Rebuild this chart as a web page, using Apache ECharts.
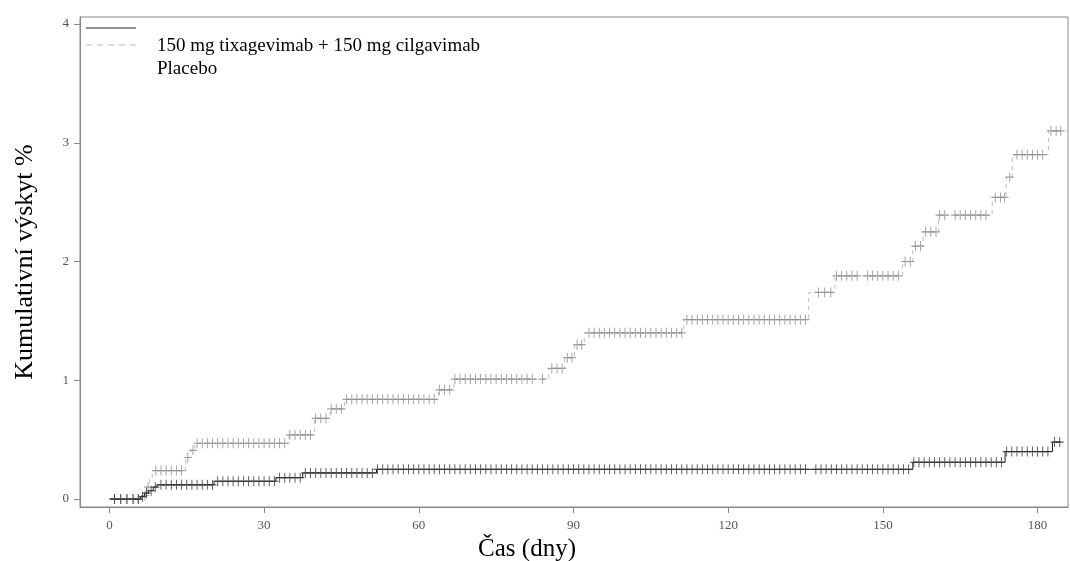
<!DOCTYPE html>
<html>
<head>
<meta charset="utf-8">
<title>Kumulativní výskyt</title>
<script src="https://cdn.jsdelivr.net/npm/echarts@6/dist/echarts.min.js"></script>
<style>
  html, body { margin: 0; padding: 0; background: #fff; }
  #chart { width: 1070px; height: 561px; }
</style>
</head>
<body>
<div id="chart"></div>
<script>
// days where the curve jumps and the cumulative % after the jump (last entry = end of follow-up)
const azdDays = [0, 6.0, 6.8, 7.6, 8.5, 9.2, 20.3, 32.3, 37.5, 51.8, 155.8, 173.7, 182.9, 184.5];
const azdValues = [0, 0.02, 0.05, 0.07, 0.10, 0.12, 0.15, 0.18, 0.22, 0.25, 0.31, 0.40, 0.48, 0.48];
// censored subjects (+ marks)
const azdCensor = [
  1, 2.2, 3.4, 4.6, 5.6, 6.4, 7.2, 8.1, 8.9,
  10, 11, 12, 13, 14, 15, 16, 17, 18, 19, 20,
  21, 22, 23, 24, 25, 26, 27, 28, 29, 30, 31, 32,
  33, 34, 35, 36, 37,
  38, 39, 40, 41, 42, 43, 44, 45, 46, 47, 48, 49, 50, 51,
  52, 53, 54, 55, 56, 57, 58, 59, 60, 61, 62, 63, 64, 65, 66, 67, 68, 69, 70,
  71, 72, 73, 74, 75, 76, 77, 78, 79, 80, 81, 82, 83, 84, 85, 86, 87, 88, 89, 90,
  91, 92, 93, 94, 95, 96, 97, 98, 99, 100, 101, 102, 103, 104, 105, 106, 107, 108, 109, 110,
  111, 112, 113, 114, 115, 116, 117, 118, 119, 120, 121, 122, 123, 124, 125, 126, 127, 128, 129, 130,
  131, 132, 133, 134, 135, 137, 138, 139, 140, 141, 142, 143, 144, 145, 146, 147, 148, 149, 150,
  151, 152, 153, 154, 155,
  156, 157, 158, 159, 160, 161, 162, 163, 164, 165, 166, 167, 168, 169, 170, 171, 172, 173,
  174, 175, 176, 177, 178, 179, 180, 181, 182,
  183.3, 184.3
];

const placeboDays = [0, 6.3, 7.2, 7.8, 8.3, 14.8, 15.8, 16.6, 34.8, 39.8, 42.8, 45.6, 63.8, 66.8, 85.2, 88.3,
  90.2, 92.1, 111.4, 135.6, 140.7, 153.8, 155.8, 157.8, 160.8, 171.2, 173.9, 175.1, 182.1, 184.7];
const placeboValues = [0, 0.03, 0.10, 0.17, 0.24, 0.35, 0.41, 0.47, 0.54, 0.68, 0.76, 0.84, 0.92, 1.01, 1.10, 1.19,
  1.30, 1.40, 1.51, 1.74, 1.88, 2.00, 2.13, 2.25, 2.39, 2.54, 2.71, 2.90, 3.10, 3.10];
const placeboCensor = [
  1, 2.2, 3.4, 4.6, 5.6, 6.9, 7.5,
  9, 10, 11, 12, 13, 14, 15.2, 16.2,
  17, 18, 19, 20, 21, 22, 23, 24, 25, 26, 27, 28, 29, 30, 31, 32, 33, 34,
  35, 36, 37, 38, 39, 40, 41, 42, 43, 44, 45,
  46, 47, 48, 49, 50, 51, 52, 53, 54, 55, 56, 57, 58, 59, 60, 61, 62, 63,
  64, 65, 66,
  67, 68, 69, 70, 71, 72, 73, 74, 75, 76, 77, 78, 79, 80, 81, 82, 84,
  85.8, 86.8, 87.8, 88.8, 89.7, 90.7, 91.6,
  93, 94, 95, 96, 97, 98, 99, 100, 101, 102, 103, 104, 105, 106, 107, 108, 109, 110, 111,
  112, 113, 114, 115, 116, 117, 118, 119, 120, 121, 122, 123, 124, 125, 126, 127, 128, 129, 130,
  131, 132, 133, 134, 135,
  137.5, 138.7, 139.9,
  141, 142, 143, 144, 145, 147, 148, 149, 150, 151, 152, 153,
  154.3, 155.3, 156.3, 157.3, 158.3, 159.3, 160.3,
  161, 162, 164, 165, 166, 167, 168, 169, 170,
  171.8, 172.8, 173.6, 174.6,
  176, 177, 178, 179, 180, 181,
  182.6, 183.6, 184.5
];

const xTicks = [0, 30, 60, 90, 120, 150, 180];
const yTicks = [0, 1, 2, 3, 4];

const serif = 'Liberation Serif';
const plus = 'path://M4.4,0H5.6V4.4H10V5.6H5.6V10H4.4V5.6H0V4.4H4.4Z';

// KM value at time t = value after the last jump at or before t
function valueAt(days, values, t) {
  let v = values[0];
  for (let i = 0; i < days.length; i++) {
    if (days[i] <= t) v = values[i];
  }
  return v;
}

function stepData(days, values) {
  return days.map((d, i) => [d, values[i]]);
}

function censorData(censor, days, values) {
  return censor.map(t => [t, valueAt(days, values, t)]);
}

const chart = echarts.init(document.getElementById('chart'));

const option = {
  animation: false,
  backgroundColor: '#fff',
  grid: {
    left: 80, right: 2, top: 17, bottom: 54,
    show: true, borderColor: '#888', borderWidth: 1,
    outerBoundsMode: 'none'
  },
  xAxis: {
    type: 'value',
    min: -5.7,
    max: 185.9,
    name: 'Čas (dny)',
    nameLocation: 'middle',
    nameGap: 27,
    // label sits left of the plot centre in the original
    nameTextStyle: { fontFamily: serif, fontSize: 25, color: '#000', padding: [0, 94, 0, 0] },
    axisLine: { show: true, onZero: false, lineStyle: { color: '#888' } },
    axisTick: { show: true, customValues: xTicks, length: 6, lineStyle: { color: '#888' } },
    axisLabel: { customValues: xTicks, fontFamily: serif, fontSize: 13, color: '#555', margin: 12 },
    splitLine: { show: false }
  },
  yAxis: {
    type: 'value',
    min: -0.067,
    max: 4.059,
    name: 'Kumulativní výskyt %',
    nameLocation: 'middle',
    nameGap: 42,
    nameTextStyle: { fontFamily: serif, fontSize: 26, color: '#000' },
    axisLine: { show: true, onZero: false, lineStyle: { color: '#888' } },
    axisTick: { show: true, customValues: yTicks, length: 6, lineStyle: { color: '#888' } },
    axisLabel: { customValues: yTicks, fontFamily: serif, fontSize: 13, color: '#555', margin: 11 },
    splitLine: { show: false }
  },
  series: [
    {
      name: 'Placebo',
      type: 'line',
      step: 'end',
      data: stepData(placeboDays, placeboValues),
      symbol: 'none',
      lineStyle: { color: '#bdbdbd', width: 1, type: [4, 4] },
      z: 2
    },
    {
      name: 'Placebo cenzura',
      type: 'scatter',
      data: censorData(placeboCensor, placeboDays, placeboValues),
      symbol: plus,
      symbolSize: [8, 10],
      itemStyle: { color: '#8a8a8a' },
      z: 3
    },
    {
      name: '150 mg tixagevimab + 150 mg cilgavimab',
      type: 'line',
      step: 'end',
      data: stepData(azdDays, azdValues),
      symbol: 'none',
      lineStyle: { color: '#222', width: 1 },
      z: 4
    },
    {
      name: 'AZD cenzura',
      type: 'scatter',
      data: censorData(azdCensor, azdDays, azdValues),
      symbol: plus,
      symbolSize: [8, 10],
      itemStyle: { color: '#333' },
      z: 5
    }
  ],
  graphic: [
    { type: 'line', shape: { x1: 86, y1: 28, x2: 136, y2: 28 }, style: { stroke: '#222', lineWidth: 1 } },
    { type: 'line', shape: { x1: 86, y1: 45, x2: 136, y2: 45 }, style: { stroke: '#bbb', lineWidth: 1, lineDash: [6, 5] } },
    { type: 'text', x: 157, y: 46, style: { text: '150 mg tixagevimab + 150 mg cilgavimab', font: '19px "Liberation Serif"', fill: '#000', verticalAlign: 'middle' } },
    { type: 'text', x: 157, y: 69, style: { text: 'Placebo', font: '19px "Liberation Serif"', fill: '#000', verticalAlign: 'middle' } }
  ]
};

chart.setOption(option);
</script>
</body>
</html>
